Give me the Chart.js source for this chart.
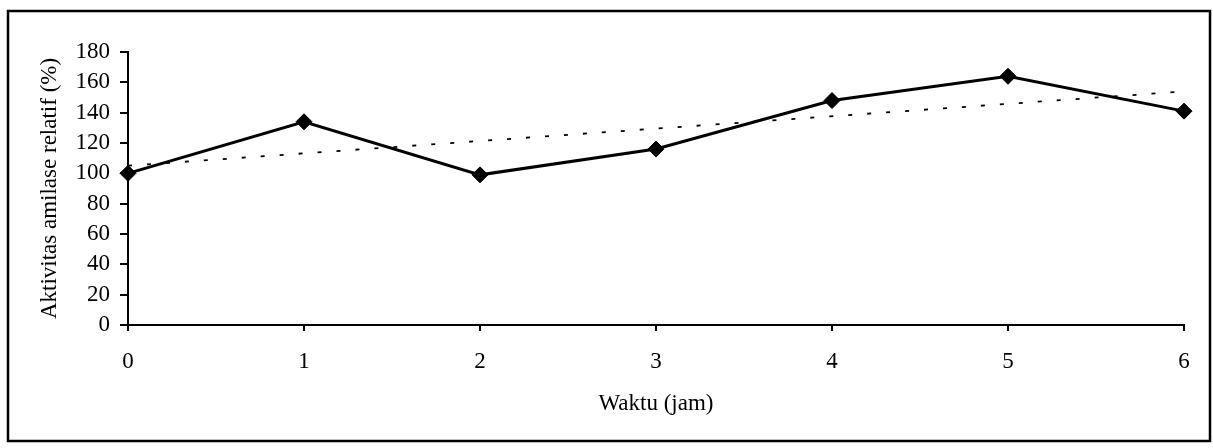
<!DOCTYPE html>
<html>
<head>
<meta charset="utf-8">
<script src="https://cdn.jsdelivr.net/npm/chart.js@4"></script>
<style>
  html, body { margin: 0; padding: 0; background: #fff; }
  #wrap { width: 1213px; height: 448px; }
</style>
</head>
<body>
<div id="wrap"><canvas id="c" width="1213" height="448"></canvas></div>
<script>
const hours = ['0', '1', '2', '3', '4', '5', '6'];
const activity = [100, 134, 99, 116, 148, 164, 141];
// dotted trend line, read at both ends
const trend = [105, null, null, null, null, null, 154];
const yTicks = [0, 20, 40, 60, 80, 100, 120, 140, 160, 180];

const serif = "'Liberation Serif', 'DejaVu Serif', serif";

// frame round the whole figure
const framePlugin = {
  id: 'frame',
  afterDraw(chart) {
    const ctx = chart.ctx;
    ctx.save();
    ctx.strokeStyle = '#000';
    ctx.lineWidth = 2.5;
    ctx.strokeRect(8, 11, 1202, 430);
    ctx.restore();
  }
};

Chart.defaults.font.family = serif;
Chart.defaults.font.size = 23;
Chart.defaults.color = '#000';

new Chart(document.getElementById('c'), {
  type: 'line',
  data: {
    labels: hours,
    datasets: [
      {
        data: activity,
        borderColor: '#000',
        backgroundColor: '#000',
        borderWidth: 3,
        pointStyle: 'rectRot',
        pointRadius: 8,
        pointBorderWidth: 1,
        tension: 0
      },
      {
        data: trend,
        spanGaps: true,
        borderColor: '#000',
        borderWidth: 1.8,
        borderDash: [4, 15],
        pointRadius: 0,
        tension: 0
      }
    ]
  },
  options: {
    responsive: false,
    animation: false,
    layout: { padding: { left: 0, top: 52, right: 29, bottom: 0 } },
    plugins: { legend: { display: false }, tooltip: { enabled: false } },
    scales: {
      x: {
        offset: false,
        grid: { drawOnChartArea: false, drawTicks: true, tickLength: 6, color: '#000', lineWidth: 2, offset: false },
        border: { display: true, color: '#000', width: 2 },
        ticks: { padding: 17, maxRotation: 0 },
        title: { display: true, text: 'Waktu (jam)', padding: { top: 0, bottom: 30 } },
        afterFit(scale) { scale.height = 123; }
      },
      y: {
        min: 0,
        max: 180,
        afterBuildTicks(scale) { scale.ticks = yTicks.map(v => ({ value: v })); },
        grid: { drawOnChartArea: false, drawTicks: true, tickLength: 8, color: '#000', lineWidth: 2 },
        border: { display: true, color: '#000', width: 2 },
        ticks: { padding: 10, autoSkip: false, font: { size: 23, lineHeight: 1.0 } },
        title: { display: true, text: 'Aktivitas amilase relatif (%)', padding: { top: 36, bottom: 0 } },
        afterFit(scale) { scale.width = 128; }
      }
    }
  },
  plugins: [framePlugin]
});
</script>
</body>
</html>
